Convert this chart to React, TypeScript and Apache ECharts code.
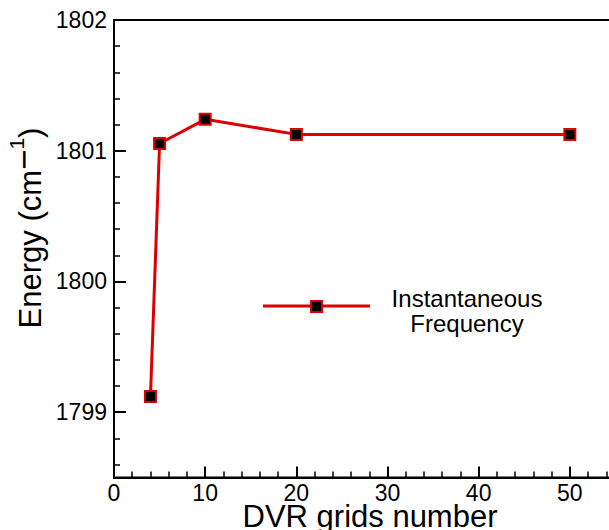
import React, { useEffect, useRef } from "react";
import * as echarts from "echarts";

const gridsNumber = [4, 5, 10, 20, 50];
const energy = [1799.12, 1801.055, 1801.24, 1801.125, 1801.125];
const yMajorTicks = [1799, 1800, 1801, 1802];
const yMinorTicks = [
  1798.6, 1798.8, 1799.2, 1799.4, 1799.6, 1799.8, 1800.2, 1800.4, 1800.6, 1800.8,
  1801.2, 1801.4, 1801.6, 1801.8,
];
const seriesName = "Instantaneous\nFrequency";

const FONT = "'Liberation Sans', Arial, Helvetica, sans-serif";
const RED = "#dd0000";

export default function App() {
  const ref = useRef<HTMLDivElement>(null);
  useEffect(() => {
    if (!ref.current) return;
    const chart = echarts.init(ref.current, undefined, { renderer: "svg" });
    chart.setOption({
      animation: false,
      backgroundColor: "#ffffff",
      grid: {
        left: 114,
        top: 20,
        width: 547,
        height: 457.5,
        containLabel: false,
        outerBoundsMode: "none",
        show: true,
        borderColor: "#000",
        borderWidth: 2,
        backgroundColor: "transparent",
      },
      xAxis: {
        type: "value",
        min: 0,
        max: 60,
        interval: 10,
        axisLine: { show: true, onZero: false, lineStyle: { color: "#000", width: 2 } },
        axisTick: { show: true, inside: true, length: 11, lineStyle: { color: "#000", width: 2 } },
        minorTick: { show: true, splitNumber: 5, length: 6, lineStyle: { color: "#000", width: 1.5 } },
        splitLine: { show: false },
        axisLabel: {
          margin: 4,
          fontSize: 23,
          color: "#000",
          fontFamily: FONT,
          showMaxLabel: false,
        },
      },
      yAxis: [
        {
          type: "value",
          min: 1798.5,
          max: 1802,
          axisLine: { show: true, onZero: false, lineStyle: { color: "#000", width: 2 } },
          axisTick: {
            show: true,
            inside: true,
            length: 12,
            customValues: yMajorTicks,
            lineStyle: { color: "#000", width: 2 },
          },
          splitLine: { show: false },
          axisLabel: {
            margin: 7,
            fontSize: 23,
            color: "#000",
            fontFamily: FONT,
            customValues: yMajorTicks,
            formatter: (v: number) => String(Math.round(v)),
          },
        },
        {
          type: "value",
          min: 1798.5,
          max: 1802,
          position: "left",
          axisLine: { show: false },
          axisTick: {
            show: true,
            inside: true,
            length: 6,
            customValues: yMinorTicks,
            lineStyle: { color: "#000", width: 1.5 },
          },
          splitLine: { show: false },
          axisLabel: { show: false },
        },
      ],
      series: [
        {
          name: seriesName,
          type: "line",
          yAxisIndex: 0,
          data: gridsNumber.map((x, i) => [x, energy[i]]),
          symbol: "rect",
          symbolSize: 11,
          lineStyle: { color: RED, width: 3 },
          itemStyle: { color: "#000", borderColor: RED, borderWidth: 2 },
          z: 3,
        },
      ],
      graphic: [
        {
          type: "line",
          shape: { x1: 263, y1: 306, x2: 370, y2: 306 },
          style: { stroke: RED, lineWidth: 3 },
        },
        {
          type: "rect",
          shape: { x: 311, y: 301, width: 11, height: 11 },
          style: { fill: "#000", stroke: RED, lineWidth: 2 },
        },
        {
          type: "text",
          x: 467,
          y: 311,
          style: {
            text: seriesName,
            align: "center",
            verticalAlign: "middle",
            fontSize: 24,
            lineHeight: 25,
            fontFamily: FONT,
            fill: "#000",
          },
        },
        {
          type: "text",
          x: 370,
          y: 516,
          style: {
            text: "DVR grids number",
            align: "center",
            verticalAlign: "middle",
            fontSize: 31,
            fontFamily: FONT,
            fill: "#000",
          },
        },
        {
          type: "text",
          x: 26,
          y: 228,
          rotation: Math.PI / 2,
          style: {
            text: "{a|Energy (cm}{m|\u2212}{b|1}{a|)}",
            align: "center",
            verticalAlign: "middle",
            fontFamily: FONT,
            fill: "#000",
            rich: {
              a: { fontSize: 31, fontFamily: FONT, lineHeight: 40, verticalAlign: "bottom" },
              m: { fontSize: 35, fontFamily: FONT, lineHeight: 10, verticalAlign: "top" },
              b: { fontSize: 21, fontFamily: FONT, lineHeight: 10, verticalAlign: "top" },
            },
          },
        },
      ],
    });
    return () => chart.dispose();
  }, []);
  return <div ref={ref} style={{ width: 609, height: 530, position: "absolute", left: 0, top: 0 }} />;
}
